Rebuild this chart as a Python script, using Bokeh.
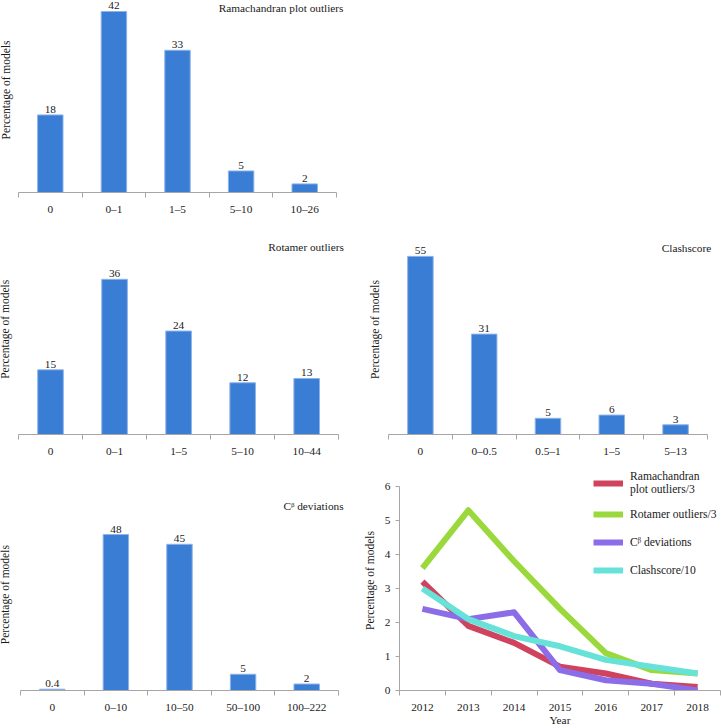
import math
from bokeh.plotting import figure
from bokeh.models import (Range1d, FixedTicker, Label, Legend, LegendItem,
                          ColumnDataSource, Spacer)
from bokeh.layouts import column, row
from bokeh.embed import file_html
from bokeh.resources import INLINE
from bokeh.core.properties import value

# ---------------- data ----------------
rama_cats = ["0", "0–1", "1–5", "5–10", "10–26"]
rama_vals = [18, 42, 33, 5, 2]
rama_labels = ["18", "42", "33", "5", "2"]

rota_cats = ["0", "0–1", "1–5", "5–10", "10–44"]
rota_vals = [15, 36, 24, 12, 13]
rota_labels = ["15", "36", "24", "12", "13"]

clash_cats = ["0", "0–0.5", "0.5–1", "1–5", "5–13"]
clash_vals = [55, 31, 5, 6, 3]
clash_labels = ["55", "31", "5", "6", "3"]

cb_cats = ["0", "0–10", "10–50", "50–100", "100–222"]
cb_vals = [0.4, 48, 45, 5, 2]
cb_labels = ["0.4", "48", "45", "5", "2"]

years = ["2012", "2013", "2014", "2015", "2016", "2017", "2018"]
rama_trend = [3.2, 1.9, 1.4, 0.7, 0.5, 0.2, 0.1]
rota_trend = [3.6, 5.3, 3.8, 2.4, 1.1, 0.6, 0.5]
cb_trend = [2.4, 2.1, 2.3, 0.6, 0.3, 0.2, 0.0]
clash_trend = [3.0, 2.1, 1.6, 1.3, 0.9, 0.7, 0.5]
trend_y_ticks = [0, 1, 2, 3, 4, 5, 6]

YLABEL = "Percentage of models"

# ---------------- style ----------------
FONT = "Liberation Serif"
FS = "11.3px"
FS_YLAB = "11.5px"
FS_LEG = "11.6px"
BAR = "#3A7DD4"
BAR_EDGE = "#8DB4EA"
AXIS = "#A6A6A6"
TXT = "#1A1A1A"
C_RAMA = "#D0435E"
C_ROTA = "#9BD83B"
C_CB = "#8C6DE8"
C_CLASH = "#66E2D8"


def style_xaxis(p, n, standoff=5):
    xa = p.xaxis[0]
    xa.ticker = FixedTicker(ticks=list(range(n)),
                            minor_ticks=[i - 0.5 for i in range(n + 1)])
    xa.bounds = (-0.5, n - 0.5)
    xa.axis_line_color = AXIS
    xa.major_tick_out = 0
    xa.major_tick_in = 0
    xa.minor_tick_out = 5
    xa.minor_tick_in = 0
    xa.minor_tick_line_color = AXIS
    xa.major_label_standoff = standoff
    xa.major_label_text_font = FONT
    xa.major_label_text_font_size = FS
    xa.major_label_text_color = TXT


def bar_panel(cats, vals, labels, title, width, height, bottom,
              x_start, x_end, y_end, tx, ty, lx, ly):
    n = len(cats)
    xs = list(range(n))
    p = figure(width=width, height=height,
               x_range=Range1d(x_start, x_end), y_range=Range1d(0, y_end),
               output_backend="svg", toolbar_location=None,
               min_border_left=0, min_border_right=0,
               min_border_top=0, min_border_bottom=bottom,
               outline_line_color=None)
    src = ColumnDataSource(dict(x=xs, top=vals, label=labels))
    p.vbar(x="x", top="top", width=0.4, source=src, fill_color=BAR,
           line_color=BAR_EDGE, line_width=1)
    p.text(x="x", y="top", text="label", source=src, text_align="center",
           text_baseline="bottom", y_offset=-2, text_font=value(FONT),
           text_font_size=FS, text_color=TXT)
    p.grid.visible = False
    style_xaxis(p, n)
    p.xaxis[0].major_label_overrides = {i: c for i, c in enumerate(cats)}
    p.yaxis.visible = False
    p.add_layout(Label(x=tx, y=ty, text=title, text_align="right",
                       text_baseline="middle", text_font=FONT,
                       text_font_size=FS, text_color=TXT))
    p.add_layout(Label(x=lx, y=ly, text=YLABEL, angle=math.pi / 2,
                       text_align="center", text_baseline="middle",
                       text_font=FONT, text_font_size=FS_YLAB,
                       text_color=TXT))
    return p


f1 = bar_panel(rama_cats, rama_vals, rama_labels, "Ramachandran plot outliers",
               360, 240, 48, -0.783, 4.877, 44.55, 4.61, 42.7, -0.689, 23.8)
f3 = bar_panel(rota_cats, rota_vals, rota_labels, "Rotamer outliers",
               360, 230, 36, -0.781, 4.84, 45.0, 4.58, 43.4, -0.703, 24.4)
f4 = bar_panel(clash_cats, clash_vals, clash_labels, "Clashscore",
               361, 230, 36, -0.939, 4.72, 59.9, 4.56, 57.7, -0.719, 32.4)
f5 = bar_panel(cb_cats, cb_vals, cb_labels, "Cᵝ deviations",
               360, 258, 38, -0.814, 4.846, 67.7, 4.58, 56.9, -0.736, 29.5)

# ---------------- trend line chart ----------------
n = len(years)
xs = list(range(n))
f6 = figure(width=361, height=258, x_range=Range1d(-0.5, n - 0.5),
            y_range=Range1d(0, 6.47), output_backend="svg",
            toolbar_location=None, min_border_left=37, min_border_right=1,
            min_border_top=0, min_border_bottom=38, outline_line_color=None)
f6.grid.visible = False
r1 = f6.line(xs, rama_trend, line_width=6, color=C_RAMA, line_join="round")
r2 = f6.line(xs, rota_trend, line_width=6, color=C_ROTA, line_join="round")
r3 = f6.line(xs, cb_trend, line_width=6, color=C_CB, line_join="round")
r4 = f6.line(xs, clash_trend, line_width=6, color=C_CLASH, line_join="round")
style_xaxis(f6, n, standoff=8)
xa = f6.xaxis[0]
xa.major_label_overrides = {i: y for i, y in enumerate(years)}
xa.axis_label = "Year"
xa.axis_label_text_font = FONT
xa.axis_label_text_font_size = FS
xa.axis_label_text_font_style = "normal"
xa.axis_label_text_color = TXT
xa.axis_label_standoff = 0
ya = f6.yaxis[0]
ya.ticker = FixedTicker(ticks=trend_y_ticks)
ya.bounds = (0, 6)
ya.axis_line_color = AXIS
ya.major_tick_line_color = AXIS
ya.major_tick_out = 4
ya.major_tick_in = 0
ya.minor_tick_out = 0
ya.minor_tick_in = 0
ya.major_label_standoff = 5
ya.major_label_text_font = FONT
ya.major_label_text_font_size = FS
ya.major_label_text_color = TXT
ya.axis_label = YLABEL
ya.axis_label_text_font = FONT
ya.axis_label_text_font_size = FS_YLAB
ya.axis_label_text_font_style = "normal"
ya.axis_label_text_color = TXT
ya.axis_label_standoff = 6

legend = Legend(items=[
    LegendItem(label="Ramachandran\nplot outliers/3", renderers=[r1]),
    LegendItem(label="Rotamer outliers/3", renderers=[r2]),
    LegendItem(label="Cᵝ deviations", renderers=[r3]),
    LegendItem(label="Clashscore/10", renderers=[r4]),
], location="top_right")
legend.margin = 0
legend.padding = 7
legend.spacing = 8
legend.label_height = 20
legend.glyph_height = 20
legend.glyph_width = 30
legend.label_standoff = 7
legend.label_width = 90
legend.label_text_font = FONT
legend.label_text_font_size = FS_LEG
legend.label_text_color = TXT
legend.background_fill_alpha = 0
legend.border_line_color = None
f6.add_layout(legend)

layout = column(row(f1, Spacer(width=361, height=240)),
                row(f3, f4),
                row(f5, f6))

open("out.html", "w").write(file_html(layout, INLINE))
